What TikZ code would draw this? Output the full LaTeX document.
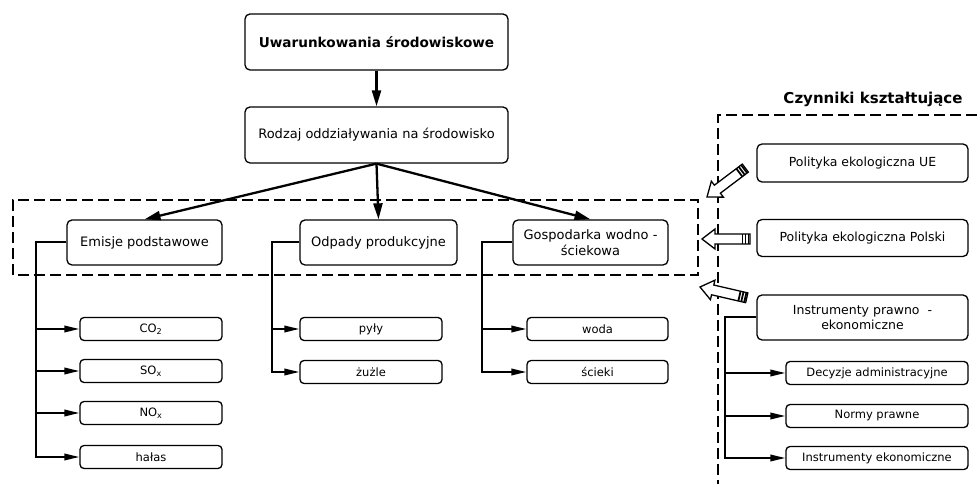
\documentclass[tikz,border=0pt]{standalone}
\usepackage{fontspec}
\setmainfont{DejaVu Sans}
\usetikzlibrary{arrows.meta}
\begin{document}
\begin{tikzpicture}[x=1pt,y=1pt]
    \tikzstyle{box} = [draw, line width=1.3pt, rounded corners=5pt, align=center, inner sep=0pt, font=\fontsize{13}{15.5}\selectfont]
    \tikzstyle{leaf} = [draw, line width=1.3pt, rounded corners=4pt, inner sep=0pt, minimum height=23pt, font=\fontsize{11.5}{13}\selectfont]
    \tikzstyle{main arrow} = [line width=2.3pt, -{Triangle[length=16pt,width=9pt]}]
    \tikzstyle{branch} = [line width=2pt, -{Triangle[length=15pt,width=6.5pt]}]
    \tikzstyle{frame} = [line width=2.6pt, dash pattern=on 11pt off 5pt]
    \tikzset{hollow arrow/.pic={
        \draw[line width=1.3pt, fill=white] (0,0) -- (-13,10) -- (-13,5) -- (-48,5)
          -- (-48,-5) -- (-13,-5) -- (-13,-10) -- cycle;
        \foreach \s in {-46.5,-43.5,-40.5}
          \draw[line width=1.8pt] (\s,-5) -- (\s,5);
    }}
    \useasboundingbox (0,0) rectangle (977,484);
    \node[box, minimum width=263pt, minimum height=56pt, font=\fontsize{13.6}{16}\selectfont\bfseries] (uwar) at (376.5,442) {Uwarunkowania środowiskowe};
    \node[box, minimum width=263pt, minimum height=56pt] (rodzaj) at (376.5,349) {Rodzaj oddziaływania na środowisko};
    \node[box, minimum width=155pt, minimum height=45pt] (emisje) at (144.5,241.5) {Emisje podstawowe};
    \node[box, minimum width=157pt, minimum height=45pt] (odpady) at (378.5,241.5) {Odpady produkcyjne};
    \node[box, minimum width=155pt, minimum height=45pt] (gosp) at (590.5,241.5) {Gospodarka wodno -\\ściekowa};
    \draw[main arrow] (uwar) -- (rodzaj);
    \draw[main arrow] (rodzaj.south) -- (emisje.north);
    \draw[main arrow] (rodzaj.south) -- (odpady.north);
    \draw[main arrow] (rodzaj.south) -- (gosp.north);
    \draw[frame] (13,209) rectangle (698,284);
    \node[leaf, minimum width=142pt] (co2) at (151,155) {CO\textsubscript{2}};
    \node[leaf, minimum width=142pt] (sox) at (151,113) {SO\textsubscript{x}};
    \node[leaf, minimum width=142pt] (nox) at (151,71) {NO\textsubscript{x}};
    \node[leaf, minimum width=142pt] (halas) at (151,27) {hałas};
    \foreach \leaf in {co2,sox,nox,halas}
      \draw[branch] (emisje.west) -- ++(-30pt,0) |- (\leaf.west);
    \node[leaf, minimum width=142pt] (pyly) at (371,155) {pyły};
    \node[leaf, minimum width=142pt] (zuzle) at (371,112) {żużle};
    \foreach \leaf in {pyly,zuzle}
      \draw[branch] (odpady.west) -- ++(-27pt,0) |- (\leaf.west);
    \node[leaf, minimum width=141pt] (woda) at (597.5,155) {woda};
    \node[leaf, minimum width=141pt] (scieki) at (597.5,112) {ścieki};
    \foreach \leaf in {woda,scieki}
      \draw[branch] (gosp.west) -- ++(-30pt,0) |- (\leaf.west);
    \node[font=\fontsize{15}{18}\selectfont\bfseries] (czynniki) at (873,385) {Czynniki kształtujące};
    \draw[frame] (977,369) -- (718,369) -- (718,0);
    \node[box, minimum width=211pt, minimum height=38pt, font=\fontsize{12.5}{15}\selectfont] (ue) at (862.5,321) {Polityka ekologiczna UE};
    \node[box, minimum width=211pt, minimum height=37pt, font=\fontsize{12.5}{15}\selectfont] (polska) at (862.5,246) {Polityka ekologiczna Polski};
    \node[box, minimum width=211pt, minimum height=45pt, font=\fontsize{12.5}{15}\selectfont] (instr) at (862.5,166.5) {Instrumenty prawno \ -\\ekonomiczne};
    \node[leaf, minimum width=182pt] (decyzje) at (877,111) {Decyzje administracyjne};
    \node[leaf, minimum width=182pt] (normy) at (877,68) {Normy prawne};
    \node[leaf, minimum width=182pt] (ekon) at (877,26) {Instrumenty ekonomiczne};
    \foreach \leaf in {decyzje,normy,ekon}
      \draw[branch] (instr.west) -- ++(-31pt,0) |- (\leaf.west);
    \pic[rotate=217] at (707,287) {hollow arrow};
    \pic[rotate=180] at (702,245) {hollow arrow};
    \pic[rotate=167] at (700,197) {hollow arrow};
\end{tikzpicture}
\end{document}
